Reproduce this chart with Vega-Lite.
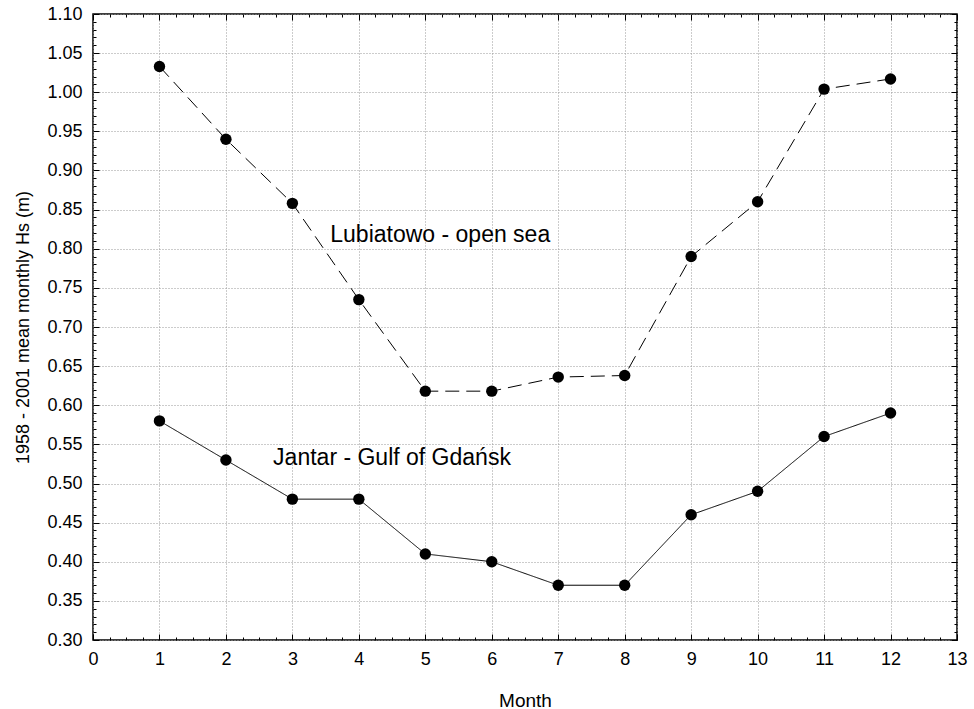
{
  "$schema": "https://vega.github.io/schema/vega-lite/v6.json",
  "width": 864,
  "height": 626,
  "autosize": {"type": "none"},
  "padding": {"left": 93, "top": 14, "right": 17, "bottom": 69},
  "background": "white",
  "config": {
    "font": "Liberation Sans",
    "view": {"stroke": "black", "strokeWidth": 1.5}
  },
  "datasets": {
    "hs": [
      {"month": 1, "hs": 1.033, "series": "Lubiatowo"},
      {"month": 2, "hs": 0.940, "series": "Lubiatowo"},
      {"month": 3, "hs": 0.858, "series": "Lubiatowo"},
      {"month": 4, "hs": 0.735, "series": "Lubiatowo"},
      {"month": 5, "hs": 0.618, "series": "Lubiatowo"},
      {"month": 6, "hs": 0.618, "series": "Lubiatowo"},
      {"month": 7, "hs": 0.636, "series": "Lubiatowo"},
      {"month": 8, "hs": 0.638, "series": "Lubiatowo"},
      {"month": 9, "hs": 0.790, "series": "Lubiatowo"},
      {"month": 10, "hs": 0.860, "series": "Lubiatowo"},
      {"month": 11, "hs": 1.004, "series": "Lubiatowo"},
      {"month": 12, "hs": 1.017, "series": "Lubiatowo"},
      {"month": 1, "hs": 0.58, "series": "Jantar"},
      {"month": 2, "hs": 0.53, "series": "Jantar"},
      {"month": 3, "hs": 0.48, "series": "Jantar"},
      {"month": 4, "hs": 0.48, "series": "Jantar"},
      {"month": 5, "hs": 0.41, "series": "Jantar"},
      {"month": 6, "hs": 0.40, "series": "Jantar"},
      {"month": 7, "hs": 0.37, "series": "Jantar"},
      {"month": 8, "hs": 0.37, "series": "Jantar"},
      {"month": 9, "hs": 0.46, "series": "Jantar"},
      {"month": 10, "hs": 0.49, "series": "Jantar"},
      {"month": 11, "hs": 0.56, "series": "Jantar"},
      {"month": 12, "hs": 0.59, "series": "Jantar"}
    ],
    "labels": [
      {"month": 3.57, "hs": 0.818, "text": "Lubiatowo - open sea"},
      {"month": 2.71, "hs": 0.533, "text": "Jantar - Gulf of Gdańsk"}
    ]
  },
  "resolve": {"axis": {"x": "independent", "y": "independent"}},
  "layer": [
    {
      "data": {"name": "hs"},
      "mark": {"type": "line", "color": "black", "strokeWidth": 1},
      "encoding": {
        "x": {
          "field": "month", "type": "quantitative",
          "scale": {"domain": [0, 13], "nice": false, "zero": false},
          "axis": {
            "title": "Month", "titleFontSize": 19, "titleFontWeight": "normal", "titleColor": "black", "titlePadding": 20,
            "values": [0,0.25,0.5,0.75,1,1.25,1.5,1.75,2,2.25,2.5,2.75,3,3.25,3.5,3.75,4,4.25,4.5,4.75,5,5.25,5.5,5.75,6,6.25,6.5,6.75,7,7.25,7.5,7.75,8,8.25,8.5,8.75,9,9.25,9.5,9.75,10,10.25,10.5,10.75,11,11.25,11.5,11.75,12,12.25,12.5,12.75,13],
            "labelExpr": "abs(datum.value - round(datum.value)) < 0.001 ? format(datum.value, 'd') : ''",
            "labelFontSize": 18, "labelColor": "black", "labelPadding": 16, "labelFlush": false, "labelOverlap": false,
            "domain": false,
            "tickColor": "black",
            "tickSize": {"condition": {"test": "abs(datum.value - round(datum.value)) < 0.001", "value": -6}, "value": -3},
            "grid": true, "gridColor": "#999999", "gridDash": [1, 2],
            "gridOpacity": {"condition": {"test": "abs(datum.value - round(datum.value)) < 0.001", "value": 1}, "value": 0}
          }
        },
        "y": {
          "field": "hs", "type": "quantitative",
          "scale": {"domain": [0.3, 1.1], "nice": false, "zero": false},
          "axis": {
            "title": "1958 - 2001 mean monthly Hs (m)", "titleFontSize": 18, "titleFontWeight": "normal", "titleColor": "black", "titlePadding": 14,
            "values": [0.30,0.31,0.32,0.33,0.34,0.35,0.36,0.37,0.38,0.39,0.40,0.41,0.42,0.43,0.44,0.45,0.46,0.47,0.48,0.49,0.50,0.51,0.52,0.53,0.54,0.55,0.56,0.57,0.58,0.59,0.60,0.61,0.62,0.63,0.64,0.65,0.66,0.67,0.68,0.69,0.70,0.71,0.72,0.73,0.74,0.75,0.76,0.77,0.78,0.79,0.80,0.81,0.82,0.83,0.84,0.85,0.86,0.87,0.88,0.89,0.90,0.91,0.92,0.93,0.94,0.95,0.96,0.97,0.98,0.99,1.00,1.01,1.02,1.03,1.04,1.05,1.06,1.07,1.08,1.09,1.10],
            "labelExpr": "abs(datum.value * 20 - round(datum.value * 20)) < 0.001 ? format(datum.value, '.2f') : ''",
            "labelFontSize": 18, "labelColor": "black", "labelPadding": 17, "labelFlush": false, "labelOverlap": false,
            "domain": false,
            "tickColor": "black",
            "tickSize": {"condition": {"test": "abs(datum.value * 20 - round(datum.value * 20)) < 0.001", "value": -6}, "value": -3},
            "grid": true, "gridColor": "#999999", "gridDash": [1, 2],
            "gridOpacity": {"condition": {"test": "abs(datum.value * 20 - round(datum.value * 20)) < 0.001", "value": 1}, "value": 0}
          }
        },
        "detail": {"field": "series"},
        "strokeDash": {
          "field": "series", "type": "nominal",
          "scale": {"domain": ["Lubiatowo", "Jantar"], "range": [[14, 7], [1, 0]]},
          "legend": null
        }
      }
    },
    {
      "data": {"name": "hs"},
      "mark": {"type": "point", "filled": true, "color": "black", "opacity": 1, "size": 130},
      "encoding": {
        "x": {
          "field": "month", "type": "quantitative",
          "axis": {
            "orient": "top", "title": null, "labels": false, "domain": false, "grid": false,
            "values": [0,0.25,0.5,0.75,1,1.25,1.5,1.75,2,2.25,2.5,2.75,3,3.25,3.5,3.75,4,4.25,4.5,4.75,5,5.25,5.5,5.75,6,6.25,6.5,6.75,7,7.25,7.5,7.75,8,8.25,8.5,8.75,9,9.25,9.5,9.75,10,10.25,10.5,10.75,11,11.25,11.5,11.75,12,12.25,12.5,12.75,13],
            "tickColor": "black",
            "tickSize": {"condition": {"test": "abs(datum.value - round(datum.value)) < 0.001", "value": -6}, "value": -3}
          }
        },
        "y": {
          "field": "hs", "type": "quantitative",
          "axis": {
            "orient": "right", "title": null, "labels": false, "domain": false, "grid": false,
            "values": [0.30,0.31,0.32,0.33,0.34,0.35,0.36,0.37,0.38,0.39,0.40,0.41,0.42,0.43,0.44,0.45,0.46,0.47,0.48,0.49,0.50,0.51,0.52,0.53,0.54,0.55,0.56,0.57,0.58,0.59,0.60,0.61,0.62,0.63,0.64,0.65,0.66,0.67,0.68,0.69,0.70,0.71,0.72,0.73,0.74,0.75,0.76,0.77,0.78,0.79,0.80,0.81,0.82,0.83,0.84,0.85,0.86,0.87,0.88,0.89,0.90,0.91,0.92,0.93,0.94,0.95,0.96,0.97,0.98,0.99,1.00,1.01,1.02,1.03,1.04,1.05,1.06,1.07,1.08,1.09,1.10],
            "tickColor": "black",
            "tickSize": {"condition": {"test": "abs(datum.value * 20 - round(datum.value * 20)) < 0.001", "value": -6}, "value": -3}
          }
        }
      }
    },
    {
      "data": {"name": "labels"},
      "mark": {"type": "text", "align": "left", "baseline": "middle", "fontSize": 23, "color": "black"},
      "encoding": {
        "x": {"field": "month", "type": "quantitative", "axis": null},
        "y": {"field": "hs", "type": "quantitative", "axis": null},
        "text": {"field": "text"}
      }
    }
  ]
}
